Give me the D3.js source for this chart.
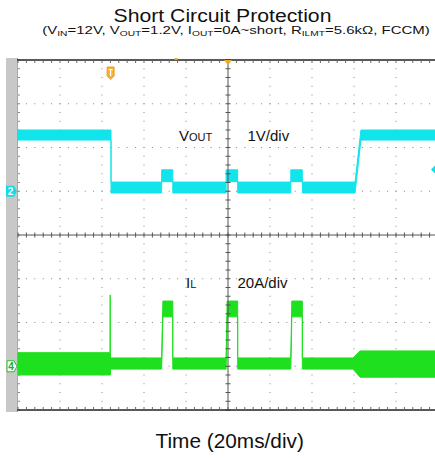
<!DOCTYPE html>
<html><head><meta charset="utf-8">
<script src="https://cdn.jsdelivr.net/npm/d3@7"></script>
<style>html,body{margin:0;padding:0;background:#fff;}svg{display:block;font-family:"Liberation Sans",Arial,sans-serif;}</style>
</head><body>
<script>
// ---- data (scope screen: 20 ms/div horizontal, CH2 1 V/div, CH4 20 A/div) ----
const timeTicks = [-100,-80,-60,-40,-20,0,20,40,60,80,100]; // ms
const divTicks = [-4,-3,-2,-1,0,1,2,3,4];
// VOUT envelope (time ms, min V, max V)
const vTime = [-100,-55.7,-55.7,-31.6,-31.6,-26.3,-26.3,-0.9,-0.9,4.6,4.6,29.9,29.9,35.4,35.4,60.5,63.3,100];
const vMin  = [1.17,1.17,-0.04,-0.04,0.22,0.22,-0.04,-0.04,0.22,0.22,-0.04,-0.04,0.22,0.22,-0.04,-0.04,1.17,1.17];
const vMax  = [1.40,1.40,0.21,0.21,0.49,0.49,0.21,0.21,0.49,0.49,0.21,0.21,0.49,0.49,0.21,0.21,1.40,1.40];
// IL envelope (time ms, min A, max A)
const iTime = [-100,-56.2,-56.1,-56.0,-55.9,-31.6,-31.0,-26.3,-26.3,-0.9,-0.4,4.6,4.6,29.9,30.4,35.4,35.4,59.5,62.9,100];
const iMin  = [-4.0,-4.0,-4.0,-4.0,-1.3,-1.3,22.6,22.6,-1.3,-1.3,22.6,22.6,-1.3,-1.3,22.6,22.6,-1.3,-1.3,-5.0,-5.0];
const iMax  = [6.2,6.2,32.6,6.2,3.8,3.8,29.8,29.8,3.8,3.8,29.8,29.8,3.8,3.8,29.8,29.8,3.8,3.8,7.0,7.0];
const ch2Offset = 1, ch4Offset = -3, voltPerDiv = 1, ampPerDiv = 20;
const triggerTime = -55.9;

const W = 435, H = 458;
const svg = d3.select("body").append("svg").attr("width", W).attr("height", H);
const x = d3.scaleLinear().domain([-100,100]).range([18,438]);
const y = d3.scaleLinear().domain([-4,4]).range([410,60]);
const yV = v => y(ch2Offset + v/voltPerDiv);
const yI = a => y(ch4Offset + a/ampPerDiv);

// left gray bar
svg.append("rect").attr("x",6).attr("y",58).attr("width",11).attr("height",354).attr("fill","#c8c8c8");
svg.append("line").attr("x1",17.5).attr("x2",17.5).attr("y1",58).attr("y2",412).attr("stroke","#a8a8a8");

// dotted grid
const g = svg.append("g");
const minorT = d3.range(-100,100.01,4);
const minorD = d3.range(-4,4.01,0.2);
divTicks.slice(1,-1).forEach(d=>{ if(d===0) return;
  minorT.forEach(t=> g.append("rect").attr("x",x(t)-0.5).attr("y",y(d)-0.5).attr("width",1).attr("height",1).attr("fill","#888"));
});
timeTicks.slice(1,-1).forEach(t=>{ if(t===0) return;
  minorD.forEach(d=> g.append("rect").attr("x",x(t)-0.5).attr("y",y(d)-0.5).attr("width",1).attr("height",1).attr("fill","#888"));
});
minorD.forEach(d=> g.append("rect").attr("x",18).attr("y",y(d)-0.5).attr("width",2).attr("height",1).attr("fill","#888"));

// traces
const areaV = d3.area().x(i=>x(vTime[i])).y0(i=>yV(vMin[i])).y1(i=>yV(vMax[i]));
const areaI = d3.area().x(i=>x(iTime[i])).y0(i=>yI(iMin[i])).y1(i=>yI(iMax[i]));
svg.append("path").attr("d", areaV(d3.range(vTime.length))).attr("fill","#12e4ec").attr("stroke","#12e4ec").attr("stroke-width",1);
svg.append("path").attr("d", areaI(d3.range(iTime.length))).attr("fill","#1ee01e").attr("stroke","#1ee01e").attr("stroke-width",1);

// center cross with ticks
svg.append("line").attr("x1",x(0)).attr("x2",x(0)).attr("y1",60).attr("y2",410).attr("stroke","#555");
svg.append("line").attr("x1",18).attr("x2",438).attr("y1",y(0)).attr("y2",y(0)).attr("stroke","#555");
minorD.forEach(d=> svg.append("line").attr("x1",x(0)-2.5).attr("x2",x(0)+2.5).attr("y1",y(d)).attr("y2",y(d)).attr("stroke","#555"));
minorT.forEach(t=> svg.append("line").attr("x1",x(t)).attr("x2",x(t)).attr("y1",y(0)-2.5).attr("y2",y(0)+2.5).attr("stroke","#555"));
svg.append("line").attr("x1",17).attr("x2",438).attr("y1",60).attr("y2",60).attr("stroke","#222").attr("stroke-width",1.5);
svg.append("line").attr("x1",17).attr("x2",438).attr("y1",410).attr("y2",410).attr("stroke","#222").attr("stroke-width",1.5);
minorT.forEach(t=>{
  svg.append("line").attr("x1",x(t)).attr("x2",x(t)).attr("y1",60).attr("y2",63).attr("stroke","#666");
  svg.append("line").attr("x1",x(t)).attr("x2",x(t)).attr("y1",407).attr("y2",410).attr("stroke","#666");
});

// trigger markers
svg.append("path").attr("d",`M${x(0)-4},60 L${x(0)+4},60 L${x(0)},65 Z`).attr("fill","#f5a623");
svg.append("rect").attr("x",174.5).attr("y",58).attr("width",3).attr("height",2).attr("fill","#f5a623");
const tx = x(triggerTime);
svg.append("path").attr("d",`M${tx-3.5},67 L${tx+3.5},67 L${tx+3.5},76 L${tx},79.5 L${tx-3.5},76 Z`).attr("fill","#f7b23b").attr("stroke","#f08a00").attr("stroke-width",0.8);
svg.append("path").attr("d",`M${tx-2},69.5 L${tx+2},69.5 M${tx},69.5 L${tx},76`).attr("stroke","#fff").attr("stroke-width",1.2);

// channel markers
svg.append("path").attr("d",`M6,${yV(0)-5.5} L14,${yV(0)-5.5} L17,${yV(0)} L14,${yV(0)+5.5} L6,${yV(0)+5.5} Z`).attr("fill","#12dce6");
svg.append("text").attr("x",10.5).attr("y",yV(0)+4).attr("text-anchor","middle").attr("font-size",10).attr("font-weight","bold").attr("fill","#fff").text("2");
svg.append("path").attr("d",`M7,${yI(0)-5.5} L14,${yI(0)-5.5} L17,${yI(0)} L14,${yI(0)+5.5} L7,${yI(0)+5.5} Z`).attr("fill","#fff").attr("stroke","#22c022").attr("stroke-width",1);
svg.append("text").attr("x",11).attr("y",yI(0)+4).attr("text-anchor","middle").attr("font-size",10).attr("font-weight","bold").attr("fill","#22b022").text("4");
svg.append("path").attr("d",`M435,${y(1.5)-4} L431,${y(1.5)} L435,${y(1.5)+4} Z`).attr("fill","#12dce6");

// labels in screen
const lab = svg.append("g").attr("fill","#111");
const t1 = lab.append("text").attr("x",179).attr("y",140.5).attr("font-size",15);
t1.append("tspan").text("V"); t1.append("tspan").attr("font-size",11).text("OUT");
lab.append("text").attr("x",247.5).attr("y",140.5).attr("font-size",15).text("1V/div");
const t2 = lab.append("text").attr("x",186).attr("y",288).attr("font-size",15);
t2.append("tspan").text("I"); t2.append("tspan").attr("font-size",11).text("L");
lab.append("text").attr("x",237.5).attr("y",288).attr("font-size",15).text("20A/div");

// titles (fitted to the reference widths)
function fitText(sel, cx, base, width){
  const w = sel.node().getComputedTextLength();
  sel.attr("transform",`translate(${cx},${base}) scale(${width/w},1)`);
}
const title = svg.append("text").attr("text-anchor","middle").attr("font-size",17.6).attr("fill","#111").text("Short Circuit Protection");
fitText(title, 222.5, 22, 218);
const sub = svg.append("text").attr("text-anchor","middle").attr("font-size",11).attr("fill","#111");
const parts = [["(V",0],["IN",1],["=12V, V",0],["OUT",1],["=1.2V, I",0],["OUT",1],["=0A~short, R",0],["ILMT",1],["=5.6kΩ, FCCM)",0]];
let prevSub = false;
parts.forEach(([s,isSub])=>{
  const ts = sub.append("tspan").text(s);
  if(isSub){ ts.attr("font-size",7.5).attr("dy",2); prevSub = true; }
  else if(prevSub){ ts.attr("dy",-2); prevSub=false; }
});
fitText(sub, 236, 34.3, 388);
svg.append("text").attr("x",229.7).attr("y",448).attr("text-anchor","middle").attr("font-size",20.8).attr("fill","#111").text("Time (20ms/div)");
</script>
</body></html>
